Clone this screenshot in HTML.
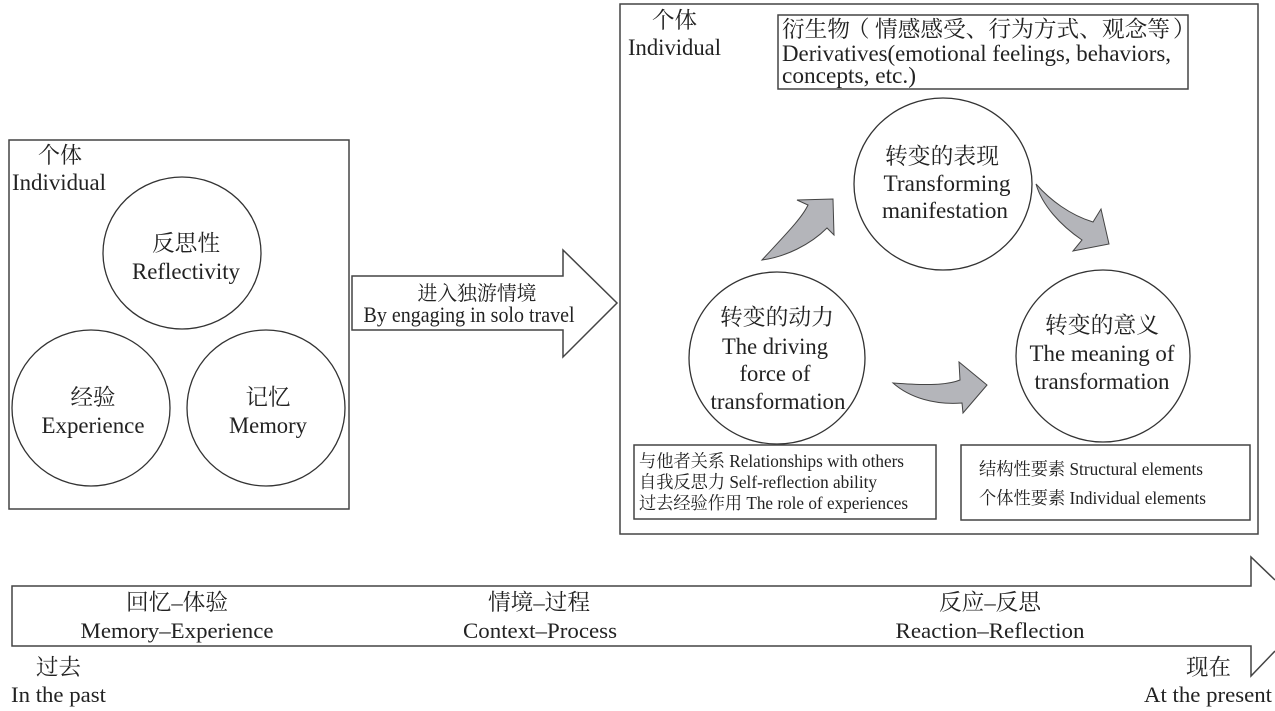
<!DOCTYPE html>
<html><head><meta charset="utf-8"><style>
html,body{margin:0;padding:0;background:#fff;width:1275px;height:711px;overflow:hidden}
svg{display:block}
text{font-family:"Liberation Serif","Noto Serif CJK SC",serif;fill:#222;font-size:23.5px}
.c{font-size:22.5px}
.s{font-size:17.5px}
.d{font-size:22px}
.e{fill:#fff;stroke:#333;stroke-width:1.3}
.b{fill:#fff;stroke:#444;stroke-width:1.5}
.g{fill:#b4b5ba;stroke:#444;stroke-width:1}
.m{text-anchor:middle}
</style></head><body>
<svg width="1275" height="711" viewBox="0 0 1275 711" xmlns="http://www.w3.org/2000/svg">
<rect class="b" x="9" y="140" width="340" height="369"/>
<text class="c" x="38" y="163" lengthAdjust="spacingAndGlyphs" textLength="44">个体</text>
<text x="12" y="190" lengthAdjust="spacingAndGlyphs" textLength="94">Individual</text>
<ellipse class="e" cx="182" cy="253" rx="79" ry="76"/>
<ellipse class="e" cx="91" cy="408" rx="79" ry="78"/>
<ellipse class="e" cx="266" cy="408" rx="79" ry="78"/>
<text class="c m" x="186" y="251" lengthAdjust="spacingAndGlyphs" textLength="68">反思性</text>
<text class="m" x="186" y="279" lengthAdjust="spacingAndGlyphs" textLength="108">Reflectivity</text>
<text class="c m" x="93" y="405" lengthAdjust="spacingAndGlyphs" textLength="45">经验</text>
<text class="m" x="93" y="433" lengthAdjust="spacingAndGlyphs" textLength="103">Experience</text>
<text class="c m" x="268" y="405" lengthAdjust="spacingAndGlyphs" textLength="45">记忆</text>
<text class="m" x="268" y="433" lengthAdjust="spacingAndGlyphs" textLength="78">Memory</text>

<polygon class="b" points="352,276 563,276 563,250 617,303 563,357 563,330 352,330"/>
<text class="m" x="477" y="300" style="font-size:20px" lengthAdjust="spacingAndGlyphs" textLength="119">进入独游情境</text>
<text class="m d" x="469" y="322" lengthAdjust="spacingAndGlyphs" textLength="211">By engaging in solo travel</text>

<rect class="b" x="620" y="4" width="638" height="530"/>
<text class="c" x="652" y="28" lengthAdjust="spacingAndGlyphs" textLength="45">个体</text>
<text x="628" y="55" lengthAdjust="spacingAndGlyphs" textLength="93">Individual</text>
<rect class="b" x="778" y="15" width="410" height="74"/>
<text class="c" x="782" y="37" lengthAdjust="spacingAndGlyphs" textLength="68">衍生物</text>
<text class="c" x="847" y="37">（</text>
<text class="c" x="875" y="37" lengthAdjust="spacingAndGlyphs" textLength="295">情感感受、行为方式、观念等</text>
<text class="c" x="1173" y="37">）</text>
<text x="782" y="61" lengthAdjust="spacingAndGlyphs" textLength="389">Derivatives(emotional feelings, behaviors,</text>
<text x="782" y="83" lengthAdjust="spacingAndGlyphs" textLength="134">concepts, etc.)</text>

<ellipse class="e" cx="943" cy="184" rx="89" ry="86"/>
<text class="c m" x="942" y="164" lengthAdjust="spacingAndGlyphs" textLength="114">转变的表现</text>
<text class="m" x="947" y="191" lengthAdjust="spacingAndGlyphs" textLength="127">Transforming</text>
<text class="m" x="945" y="218" lengthAdjust="spacingAndGlyphs" textLength="126">manifestation</text>

<ellipse class="e" cx="777" cy="358" rx="88" ry="86"/>
<text class="c m" x="777" y="325" lengthAdjust="spacingAndGlyphs" textLength="114">转变的动力</text>
<text class="m" x="775" y="354" lengthAdjust="spacingAndGlyphs" textLength="106">The driving</text>
<text class="m" x="775" y="381" lengthAdjust="spacingAndGlyphs" textLength="71">force of</text>
<text class="m" x="778" y="409" lengthAdjust="spacingAndGlyphs" textLength="135">transformation</text>

<ellipse class="e" cx="1103" cy="356" rx="87" ry="86"/>
<text class="c m" x="1102" y="333" lengthAdjust="spacingAndGlyphs" textLength="114">转变的意义</text>
<text class="m" x="1102" y="361" lengthAdjust="spacingAndGlyphs" textLength="145">The meaning of</text>
<text class="m" x="1102" y="389" lengthAdjust="spacingAndGlyphs" textLength="135">transformation</text>

<path class="g" d="M762,260 C785,235 802,218 808,205 L797,200 L833,199 L834,235 L827,228 C810,245 785,257 762,260 Z"/>
<path class="g" d="M1036,184 C1050,200 1070,215 1093,222 L1101,209 L1109,244 L1073,251 L1082,240 C1060,225 1042,205 1036,184 Z"/>
<path class="g" d="M893,383 C920,385 945,386 960,380 L959,362 L987,385 L963,413 L962,403 C935,405 910,398 893,383 Z"/>

<rect class="b" x="634" y="445" width="302" height="74"/>
<text class="s" x="639" y="467" lengthAdjust="spacingAndGlyphs" textLength="265">与他者关系 Relationships with others</text>
<text class="s" x="639" y="488" lengthAdjust="spacingAndGlyphs" textLength="238">自我反思力 Self-reflection ability</text>
<text class="s" x="639" y="509" lengthAdjust="spacingAndGlyphs" textLength="269">过去经验作用 The role of experiences</text>
<rect class="b" x="961" y="445" width="289" height="75"/>
<text class="s" x="979" y="475" lengthAdjust="spacingAndGlyphs" textLength="224">结构性要素 Structural elements</text>
<text class="s" x="979" y="504" lengthAdjust="spacingAndGlyphs" textLength="227">个体性要素 Individual elements</text>

<polyline fill="#fff" stroke="#444" stroke-width="1.5" points="1275,580 1251,557 1251,586 12,586 12,646 1251,646 1251,676 1275,651"/>
<text class="c m" x="177" y="610" lengthAdjust="spacingAndGlyphs" textLength="102">回忆–体验</text>
<text class="d m" x="177" y="638" lengthAdjust="spacingAndGlyphs" textLength="193">Memory–Experience</text>
<text class="c m" x="539" y="610" lengthAdjust="spacingAndGlyphs" textLength="102">情境–过程</text>
<text class="d m" x="540" y="638" lengthAdjust="spacingAndGlyphs" textLength="154">Context–Process</text>
<text class="c m" x="990" y="610" lengthAdjust="spacingAndGlyphs" textLength="102">反应–反思</text>
<text class="d m" x="990" y="638" lengthAdjust="spacingAndGlyphs" textLength="189">Reaction–Reflection</text>
<text class="c" x="36" y="675" lengthAdjust="spacingAndGlyphs" textLength="45">过去</text>
<text class="d" x="11" y="702" lengthAdjust="spacingAndGlyphs" textLength="95">In the past</text>
<text class="c" x="1186" y="675" lengthAdjust="spacingAndGlyphs" textLength="45">现在</text>
<text class="d" x="1144" y="702" lengthAdjust="spacingAndGlyphs" textLength="128">At the present</text>
</svg>
</body></html>
